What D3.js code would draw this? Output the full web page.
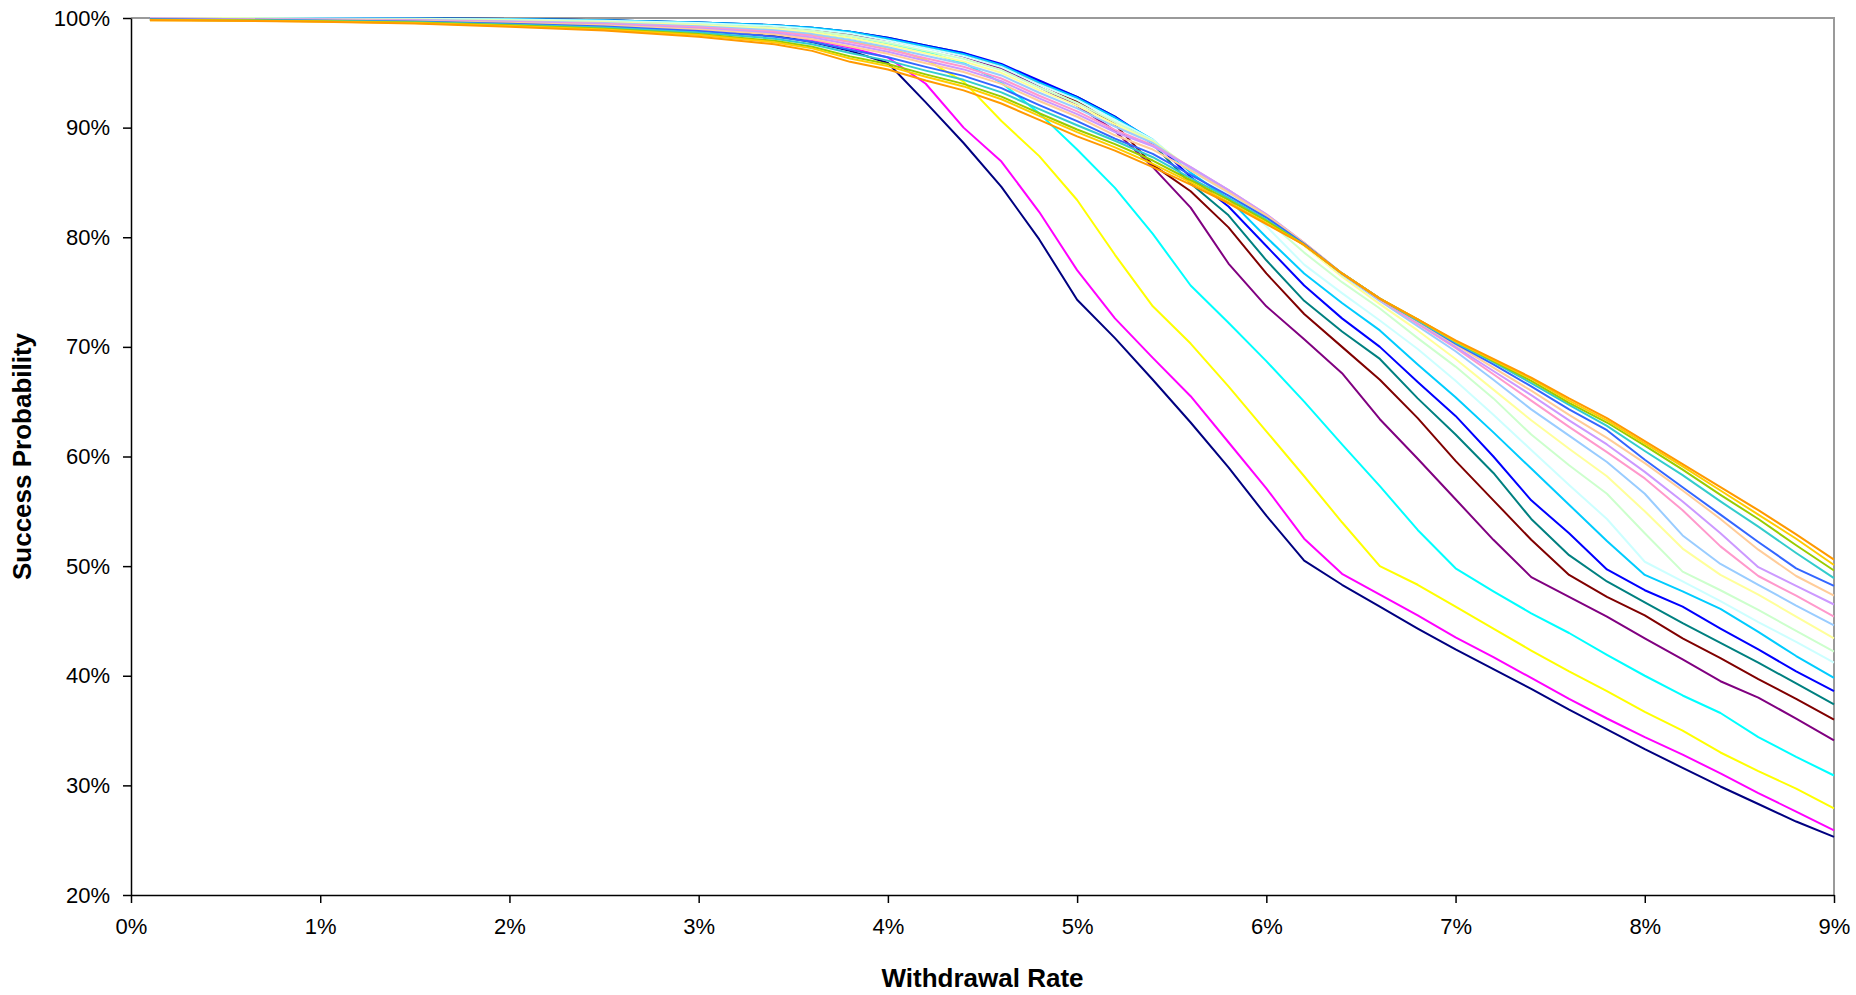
<!DOCTYPE html>
<html><head><meta charset="utf-8">
<script src="https://cdn.jsdelivr.net/npm/d3@7"></script>
<style>
body{margin:0;background:#fff}
svg{display:block}
text{font-family:Arial,"Liberation Sans",sans-serif}
</style>
</head><body>
<svg id="chart" width="1856" height="995"></svg>
<script>
// ---- data ----
const rates = [0.1,0.5,1.0,1.5,2.0,2.5,3.0,3.4,3.6,3.8,4.0,4.2,4.4,4.6,4.8,5.0,5.2,5.4,5.6,5.8,6.0,6.2,6.4,6.6,6.8,7.0,7.2,7.4,7.6,7.8,8.0,8.2,8.4,8.6,8.8,9.0];

const navy      = [100,100,100,99.95,99.9,99.6,99.1,98.4,97.8,97.0,95.9,92.3,88.6,84.6,79.8,74.3,70.8,67.0,63.1,59.0,54.6,50.5,48.3,46.3,44.3,42.4,40.6,38.8,36.9,35.1,33.3,31.6,29.9,28.3,26.7,25.3];
const magenta   = [100,100,100,99.95,99.9,99.65,99.2,98.6,98.0,97.3,96.4,94.0,90.0,86.9,82.3,77.0,72.6,69.0,65.5,61.3,57.1,52.5,49.3,47.4,45.5,43.5,41.7,39.8,37.9,36.1,34.4,32.8,31.1,29.3,27.6,25.9];
const yellow    = [100,100,100,99.95,99.9,99.7,99.3,98.9,98.5,97.9,97.3,96.2,94.2,90.6,87.4,83.4,78.4,73.7,70.3,66.4,62.3,58.2,54.0,50.0,48.3,46.3,44.3,42.3,40.4,38.6,36.7,35.0,33.0,31.3,29.7,27.9];
const cyan      = [100,100,100,99.95,99.9,99.75,99.4,99.0,98.7,98.2,97.6,96.9,95.9,94.1,91.3,88.0,84.5,80.3,75.6,72.2,68.7,65.0,61.1,57.3,53.3,49.8,47.7,45.7,43.9,41.9,40.0,38.2,36.6,34.4,32.6,30.9];
const purple    = [100,100,100,99.95,99.9,99.8,99.5,99.2,98.9,98.5,98.0,97.3,96.5,95.4,93.7,92.0,89.7,86.4,82.7,77.6,73.7,70.7,67.6,63.4,59.8,56.1,52.4,49.0,47.2,45.4,43.4,41.5,39.5,38.0,36.1,34.1];
const maroon    = [100,100,100,99.95,99.9,99.8,99.55,99.3,99.0,98.6,98.1,97.4,96.7,95.6,94.0,92.4,90.3,86.6,84.2,80.9,76.7,73.0,70.0,67.0,63.5,59.6,56.0,52.4,49.2,47.2,45.5,43.4,41.6,39.7,37.9,36.0];
const teal      = [100,100,100,99.95,99.9,99.8,99.6,99.35,99.1,98.75,98.2,97.5,96.8,95.7,94.2,92.8,91.0,88.5,84.9,82.0,77.9,74.2,71.4,68.9,65.3,62.0,58.5,54.3,51.0,48.6,46.7,44.8,43.0,41.2,39.3,37.4];
const blue      = [100,100,100,99.95,99.9,99.8,99.6,99.35,99.1,98.75,98.2,97.5,96.8,95.8,94.3,92.8,91.0,88.8,85.5,82.8,79.2,75.6,72.6,70.0,66.8,63.7,60.0,56.0,53.0,49.7,47.8,46.3,44.3,42.4,40.4,38.6];
const skyBlue   = [100,100,99.98,99.95,99.9,99.8,99.6,99.35,99.1,98.75,98.1,97.4,96.7,95.7,94.1,92.7,90.9,88.9,85.9,83.5,80.0,76.7,74.0,71.5,68.4,65.4,62.2,58.9,55.6,52.3,49.2,47.7,46.1,44.0,41.8,39.8];
const ltTurq    = [100,100,99.96,99.93,99.87,99.75,99.54,99.26,98.99,98.6,97.96,97.25,96.54,95.53,93.93,92.53,90.7,88.9,86.1,84.0,81.0,77.5,74.9,72.4,69.8,66.9,63.8,60.6,57.4,54.3,50.4,48.6,46.8,44.9,43.1,41.2];
const ltGreen   = [100,100,99.94,99.89,99.81,99.68,99.43,99.12,98.83,98.4,97.74,97.0,96.27,95.25,93.66,92.25,90.5,88.8,86.2,84.2,81.6,78.6,75.9,73.5,70.8,68.2,65.3,62.0,59.2,56.6,53.0,49.5,47.8,46.0,44.1,42.2];
const ltYellow  = [100,99.95,99.91,99.86,99.76,99.61,99.34,99.0,98.68,98.2,97.54,96.78,96.04,95.0,93.42,92.0,90.3,88.7,86.3,84.3,81.9,79.2,76.4,73.9,71.5,68.9,66.1,63.3,60.7,58.2,55.0,51.6,49.2,47.4,45.4,43.4];
const paleBlue  = [99.95,99.9,99.89,99.83,99.71,99.54,99.25,98.88,98.53,98.0,97.34,96.56,95.81,94.76,93.18,91.76,90.1,88.6,86.3,84.3,82.0,79.4,76.6,74.2,71.9,69.6,67.0,64.3,61.9,59.5,56.6,52.8,50.2,48.3,46.4,44.6];
const rose      = [99.95,99.9,99.86,99.79,99.66,99.47,99.15,98.74,98.37,97.8,97.12,96.32,95.55,94.48,92.91,91.48,89.8,88.4,86.4,84.3,82.1,79.5,76.7,74.3,72.1,69.9,67.5,65.1,62.7,60.4,58.0,55.1,51.8,49.1,47.3,45.4];
const lavender  = [99.95,99.9,99.84,99.76,99.61,99.4,99.05,98.62,98.22,97.6,96.92,96.1,95.31,94.23,92.67,91.23,89.6,88.3,86.4,84.3,82.1,79.5,76.7,74.4,72.2,70.0,67.8,65.6,63.3,61.1,58.6,55.9,53.0,49.9,48.2,46.5];
const tan       = [99.9,99.85,99.82,99.73,99.56,99.33,98.96,98.49,98.07,97.4,96.73,95.88,95.08,93.99,92.43,90.99,89.3,88.0,86.1,84.1,82.0,79.5,76.7,74.4,72.3,70.2,68.1,66.0,63.8,61.7,59.4,56.9,54.3,51.5,49.1,47.3];
const lightBlue = [99.9,99.85,99.78,99.68,99.48,99.23,98.82,98.3,97.84,97.1,96.42,95.54,94.72,93.6,92.06,90.6,89.0,87.6,85.7,83.8,81.8,79.4,76.7,74.4,72.4,70.3,68.4,66.4,64.3,62.4,59.7,57.2,54.7,52.2,49.8,48.2];
const aqua      = [99.85,99.8,99.75,99.63,99.4,99.13,98.68,98.11,97.61,96.8,96.11,95.2,94.36,93.22,91.69,90.22,88.8,87.3,85.4,83.6,81.6,79.3,76.7,74.4,72.4,70.4,68.6,66.7,64.7,62.8,60.5,58.3,55.9,53.6,51.2,48.9];
const lime      = [99.85,99.8,99.71,99.58,99.33,99.02,98.53,97.92,97.38,96.5,95.8,94.86,93.99,92.83,91.31,89.83,88.5,87.0,85.2,83.4,81.5,79.3,76.7,74.4,72.5,70.5,68.7,66.9,64.9,63.1,61.0,58.8,56.5,54.3,51.9,49.6];
const gold      = [99.8,99.78,99.69,99.55,99.28,98.95,98.44,97.79,97.23,96.3,95.61,94.64,93.76,92.59,91.07,89.59,88.2,86.7,85.0,83.2,81.3,79.3,76.7,74.4,72.5,70.5,68.8,67.1,65.1,63.3,61.2,59.1,56.9,54.7,52.5,50.1];
const orange    = [99.8,99.75,99.65,99.5,99.2,98.85,98.3,97.6,97.0,96.0,95.3,94.3,93.4,92.2,90.7,89.2,87.9,86.4,84.8,83.1,81.2,79.3,76.7,74.4,72.5,70.6,68.9,67.2,65.3,63.5,61.4,59.3,57.2,55.1,52.9,50.6];

const seriesValues = [navy,magenta,yellow,cyan,purple,maroon,teal,blue,skyBlue,ltTurq,ltGreen,ltYellow,paleBlue,rose,lavender,tan,lightBlue,aqua,lime,gold,orange];
const yTickValues = [20,30,40,50,60,70,80,90,100];
const xTickValues = [0,1,2,3,4,5,6,7,8,9];
const xTitle = "Withdrawal Rate";
const yTitle = "Success Probability";

// ---- styles ----
const seriesColors = ["#000080","#FF00FF","#FFFF00","#00FFFF","#800080","#800000","#008080","#0000FF","#00CCFF","#CCFFFF","#CCFFCC","#FFFF99","#99CCFF","#FF99CC","#CC99FF","#FFCC99","#3366FF","#33CCCC","#99CC00","#FFCC00","#FF9900"];

const M = {left:131, right:1834, top:18, bottom:895};
const x = d3.scaleLinear().domain([0,9]).range([M.left, M.right]);
const y = d3.scaleLinear().domain([20,100]).range([M.bottom, M.top]);
const svg = d3.select("#chart");

// plot frame (top & right)
svg.append("path")
  .attr("d", `M${M.left},${M.top}H${M.right}V${M.bottom}`)
  .attr("fill","none").attr("stroke","#9a9a9a").attr("stroke-width",2);

// series
const line = d3.line().x((d,i)=>x(rates[i])).y(d=>y(d));
seriesValues.forEach((vals,k)=>{
  svg.append("path").datum(vals)
    .attr("d", line)
    .attr("fill","none")
    .attr("stroke", seriesColors[k])
    .attr("stroke-width", 2)
    .attr("stroke-linejoin","round");
});

// axes
const yAxis = d3.axisLeft(y).tickValues(yTickValues).tickFormat(d=>d+"%").tickSize(8).tickPadding(13).tickSizeOuter(0);
const xAxis = d3.axisBottom(x).tickValues(xTickValues).tickFormat(d=>d+"%").tickSize(8).tickPadding(15).tickSizeOuter(0);

const gy = svg.append("g").attr("transform",`translate(${M.left},0)`).call(yAxis);
const gx = svg.append("g").attr("transform",`translate(0,${M.bottom})`).call(xAxis);
[gx,gy].forEach(g=>{
  g.selectAll("path.domain").attr("stroke","#000").attr("stroke-width",1.5);
  g.selectAll(".tick line").attr("stroke","#000").attr("stroke-width",1.5);
  g.selectAll(".tick text").attr("fill","#000").style("font-size","22px").style("font-family","Arial, 'Liberation Sans', sans-serif");
});

// titles
svg.append("text")
  .attr("x",(M.left+M.right)/2).attr("y",987)
  .attr("text-anchor","middle")
  .style("font-size","26px").style("font-weight","bold")
  .text(xTitle);
svg.append("text")
  .attr("transform",`translate(31,${(M.top+M.bottom)/2}) rotate(-90)`)
  .attr("text-anchor","middle")
  .style("font-size","26px").style("font-weight","bold")
  .text(yTitle);
</script>
</body></html>
